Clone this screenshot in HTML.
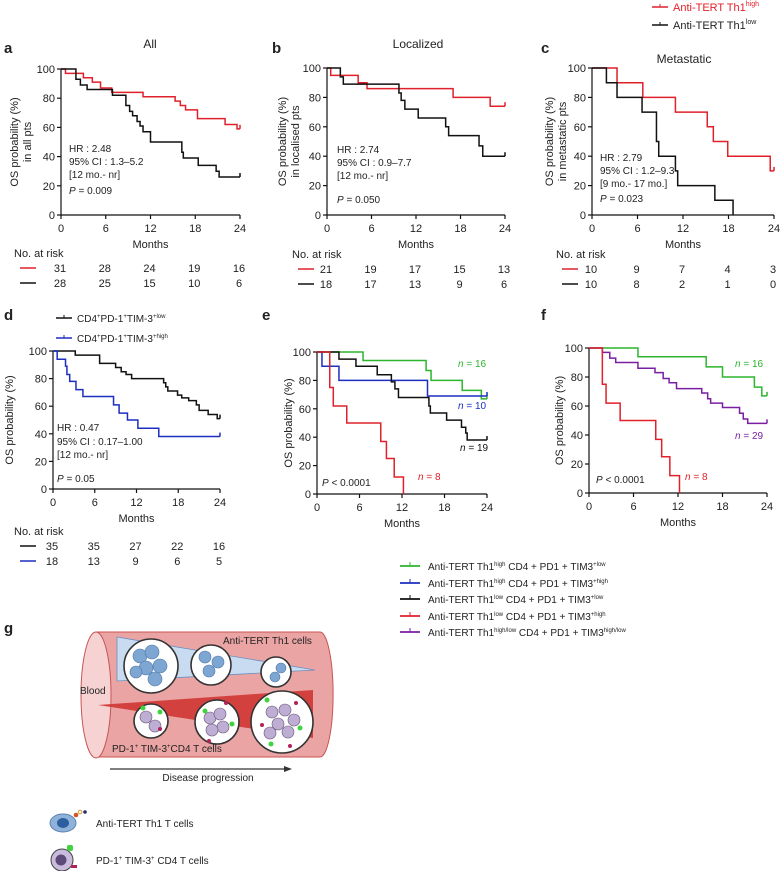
<!DOCTYPE html>
<html><head><meta charset="utf-8"><style>
html,body{margin:0;padding:0;background:#fff}
svg{display:block;font-family:"Liberation Sans",Arial,sans-serif}
</style></head><body>
<svg id="fig" width="780" height="871" viewBox="0 0 780 871" xmlns="http://www.w3.org/2000/svg">
<g id="panels"></g>
<g id="static" font-size="11" fill="#222">
 <text x="4" y="53" font-size="15" font-weight="bold">a</text>
 <text x="272" y="53" font-size="15" font-weight="bold">b</text>
 <text x="541" y="53" font-size="15" font-weight="bold">c</text>
 <text x="4" y="320" font-size="15" font-weight="bold">d</text>
 <text x="262" y="320" font-size="15" font-weight="bold">e</text>
 <text x="541" y="320" font-size="15" font-weight="bold">f</text>
 <text x="4" y="633" font-size="15" font-weight="bold">g</text>
 <text x="150" y="48" font-size="12" text-anchor="middle">All</text>
 <text x="418" y="48" font-size="12" text-anchor="middle">Localized</text>
 <text x="684" y="63" font-size="12" text-anchor="middle">Metastatic</text>
 <g>
  <line x1="652" y1="7" x2="668" y2="7" stroke="#e0202a" stroke-width="1.5"/><line x1="660" y1="4" x2="660" y2="7" stroke="#e0202a"/>
  <text x="673" y="11" fill="#e0202a">Anti-TERT Th1<tspan font-size="7" dy="-5">high</tspan></text>
  <line x1="652" y1="25" x2="668" y2="25" stroke="#111" stroke-width="1.5"/><line x1="660" y1="22" x2="660" y2="25" stroke="#111"/>
  <text x="673" y="29">Anti-TERT Th1<tspan font-size="7" dy="-5">low</tspan></text>
 </g>
 <g>
  <line x1="56" y1="318" x2="72" y2="318" stroke="#111" stroke-width="1.5"/><line x1="64" y1="315" x2="64" y2="318" stroke="#111"/>
  <text x="77" y="322" font-size="10">CD4<tspan font-size="6" dy="-4">+</tspan><tspan dy="4">PD-1</tspan><tspan font-size="6" dy="-4">+</tspan><tspan dy="4">TIM-3</tspan><tspan font-size="6" dy="-4">+low</tspan></text>
  <line x1="56" y1="338" x2="72" y2="338" stroke="#1c2fc0" stroke-width="1.5"/><line x1="64" y1="335" x2="64" y2="338" stroke="#1c2fc0"/>
  <text x="77" y="342" font-size="10">CD4<tspan font-size="6" dy="-4">+</tspan><tspan dy="4">PD-1</tspan><tspan font-size="6" dy="-4">+</tspan><tspan dy="4">TIM-3</tspan><tspan font-size="6" dy="-4">+high</tspan></text>
 </g>
 <g font-size="10">
  <g><line x1="400" y1="566" x2="420" y2="566" stroke="#2db52d" stroke-width="1.8"/><line x1="410" y1="562" x2="410" y2="566" stroke="#2db52d"/>
  <text x="428" y="570">Anti-TERT Th1<tspan font-size="6" dy="-4">high</tspan><tspan dy="4"> CD4 + PD1 + TIM3</tspan><tspan font-size="6" dy="-4">+low</tspan></text></g>
  <g><line x1="400" y1="583" x2="420" y2="583" stroke="#1c2fc0" stroke-width="1.8"/><line x1="410" y1="579" x2="410" y2="583" stroke="#1c2fc0"/>
  <text x="428" y="587">Anti-TERT Th1<tspan font-size="6" dy="-4">high</tspan><tspan dy="4"> CD4 + PD1 + TIM3</tspan><tspan font-size="6" dy="-4">+high</tspan></text></g>
  <g><line x1="400" y1="599" x2="420" y2="599" stroke="#111" stroke-width="1.8"/><line x1="410" y1="595" x2="410" y2="599" stroke="#111"/>
  <text x="428" y="603">Anti-TERT Th1<tspan font-size="6" dy="-4">low</tspan><tspan dy="4"> CD4 + PD1 + TIM3</tspan><tspan font-size="6" dy="-4">+low</tspan></text></g>
  <g><line x1="400" y1="616" x2="420" y2="616" stroke="#e0202a" stroke-width="1.8"/><line x1="410" y1="612" x2="410" y2="616" stroke="#e0202a"/>
  <text x="428" y="620">Anti-TERT Th1<tspan font-size="6" dy="-4">low</tspan><tspan dy="4"> CD4 + PD1 + TIM3</tspan><tspan font-size="6" dy="-4">+high</tspan></text></g>
  <g><line x1="400" y1="632" x2="420" y2="632" stroke="#7a1fa2" stroke-width="1.8"/><line x1="410" y1="628" x2="410" y2="632" stroke="#7a1fa2"/>
  <text x="428" y="636">Anti-TERT Th1<tspan font-size="6" dy="-4">high/low</tspan><tspan dy="4"> CD4 + PD1 + TIM3</tspan><tspan font-size="6" dy="-4">high/low</tspan></text></g>
 </g>
</g>
<g id="illustration">
 <path d="M96 632 L320 632 A13 62 0 0 1 320 757 L96 757 Z" fill="#eaa4a4" stroke="#c85555" stroke-width="1"/>
 <ellipse cx="96" cy="695" rx="15" ry="63" fill="#f6d2d2" stroke="#c85555"/>
 <polygon points="117,637 315,670 117,681" fill="#c9dbf0" stroke="#6d8fc0" stroke-width="0.8"/>
 <polygon points="98,705 313,690 313,738" fill="#d3413f"/>
 <g stroke="#333" stroke-width="1.6" fill="#fff">
  <circle cx="151" cy="666" r="27"/><circle cx="211" cy="665" r="20"/><circle cx="276" cy="672" r="15"/>
  <circle cx="151" cy="721" r="17"/><circle cx="217" cy="722" r="22"/><circle cx="282" cy="722" r="31"/>
 </g>
 <g fill="#7ea6d3" stroke="#4e77a8" stroke-width="0.6">
  <circle cx="140" cy="656" r="7"/><circle cx="152" cy="652" r="7"/><circle cx="146" cy="668" r="7"/><circle cx="160" cy="666" r="7"/><circle cx="136" cy="672" r="6"/><circle cx="155" cy="679" r="7"/>
  <circle cx="205" cy="657" r="6"/><circle cx="218" cy="662" r="6"/><circle cx="209" cy="671" r="6"/>
  <circle cx="281" cy="668" r="5"/><circle cx="275" cy="677" r="5"/>
 </g>
 <g fill="#bfaed4" stroke="#665577" stroke-width="0.6">
  <circle cx="146" cy="717" r="6"/><circle cx="155" cy="726" r="6"/>
  <circle cx="210" cy="718" r="6"/><circle cx="220" cy="714" r="6"/><circle cx="223" cy="727" r="6"/><circle cx="212" cy="730" r="6"/>
  <circle cx="272" cy="712" r="6"/><circle cx="285" cy="710" r="6"/><circle cx="294" cy="720" r="6"/><circle cx="278" cy="724" r="6"/><circle cx="288" cy="732" r="6"/><circle cx="270" cy="733" r="6"/>
 </g>
 <g fill="#3fd43f"><circle cx="143" cy="708" r="2.5"/><circle cx="160" cy="712" r="2.5"/><circle cx="205" cy="711" r="2.5"/><circle cx="232" cy="724" r="2.5"/><circle cx="267" cy="700" r="2.5"/><circle cx="300" cy="728" r="2.5"/><circle cx="271" cy="744" r="2.5"/></g>
 <g fill="#b3205a"><circle cx="160" cy="729" r="2"/><circle cx="209" cy="741" r="2"/><circle cx="226" cy="703" r="2"/><circle cx="296" cy="703" r="2"/><circle cx="262" cy="725" r="2"/><circle cx="290" cy="746" r="2"/></g>
 <text x="223" y="644" font-size="10" fill="#222">Anti-TERT Th1 cells</text>
 <text x="80" y="694" font-size="10" fill="#222">Blood</text>
 <text x="112" y="752" font-size="10" fill="#222">PD-1<tspan font-size="6" dy="-4">+</tspan><tspan dy="4"> TIM-3</tspan><tspan font-size="6" dy="-4">+</tspan><tspan dy="4">CD4 T cells</tspan></text>
 <line x1="110" y1="769" x2="288" y2="769" stroke="#333" stroke-width="1.2"/><polygon points="292,769 284,766 284,772" fill="#333"/>
 <text x="208" y="781" font-size="10" fill="#222" text-anchor="middle">Disease progression</text>
 <ellipse cx="63" cy="823" rx="13" ry="9" fill="#8fb2da" stroke="#5d82b0"/><ellipse cx="63" cy="823" rx="6" ry="5" fill="#2d5f9e"/>
 <circle cx="76" cy="815" r="2.3" fill="#d35420"/><circle cx="80" cy="812" r="1.8" fill="none" stroke="#d99a2b"/><circle cx="85" cy="812" r="1.8" fill="#2a2a6a"/>
 <text x="96" y="827" font-size="10" fill="#222">Anti-TERT Th1 T cells</text>
 <circle cx="62" cy="860" r="11" fill="#c9bbdc" stroke="#444"/><circle cx="61" cy="860" r="5.5" fill="#5d4a7a"/>
 <rect x="67" y="845" width="6" height="6" rx="2" fill="#3fd43f"/><rect x="71" y="865" width="6" height="3" fill="#b3205a"/>
 <text x="96" y="864" font-size="10" fill="#222">PD-1<tspan font-size="6" dy="-4">+</tspan><tspan dy="4"> TIM-3</tspan><tspan font-size="6" dy="-4">+</tspan><tspan dy="4"> CD4 T cells</tspan></text>
</g>
</svg>
<script>
// Step data: times (months) and survival (%) after each drop
const aRedT=[0.6,3,4.2,5.3,6.8,11,15.3,16,16.7,18.3,22,23.6];
const aRedV=[97,94,91,87,84,81,78,75,72,66,62,59];
const aBlkT=[2,2.6,3.5,6.9,8.7,9.2,9.6,10.2,10.6,11,12,16.2,16.4,18.4,20.8,21.2];
const aBlkV=[93,89,86,82,75,71,68,64,61,57,50,43,39,34,30,26];
const bRedT=[0.5,4.2,5.4,17,22];
const bRedV=[95,90,86,80,74];
const bBlkT=[1.8,2.2,9.7,10,10.5,12.3,16,16.4,20.5,21];
const bBlkV=[94,89,83,78,72,66,60,54,47,40];
const cRedT=[3.3,6.7,11,15.2,16,17.9,23.5];
const cRedV=[90,80,70,60,50,40,30];
const cBlkT=[1.9,3.3,6.6,8.5,8.8,11,11.3,16.2,18.6];
const cBlkV=[90,80,70,50,40,30,20,10,0];
const dBlkT=[3.2,6.7,9,9.8,10.5,11.3,15.9,16.2,16.5,17.9,18.5,19.5,20.6,21,22.3,23.6];
const dBlkV=[97,91,88,85,83,80,77,74,71,68,66,64,61,57,54,51];
const dBluT=[0.6,1.8,2,2.4,3.3,4.3,8.7,9.5,10.7,12.2,15.2];
const dBluV=[94,89,83,78,72,67,61,55,50,44,38];
const eGrnT=[6.5,15.4,16.1,20.5,23.2];
const eGrnV=[94,87,80,73,67];
const eBluT=[0.7,3.1,15.6];
const eBluV=[90,80,69];
const eBlkT=[3.1,5.5,8.5,10.5,11,11.5,15.8,16,18.3,20.4,21,21.2];
const eBlkV=[95,90,84,79,74,68,62,57,52,47,43,38];
const redT=[1.8,2.3,4.2,9,9.8,10.9,12.2];
const redV=[75,62,50,37,25,12,0];
const fGrnT=[6.6,15.8,18,22.3,23.3];
const fGrnV=[94,87,80,73,67];
const fPurT=[1.8,2.8,3.6,6.6,8.9,10,10.8,11.8,15.2,16,16.4,18,20.3,20.8,21.4];
const fPurV=[97,93,90,86,83,79,76,72,69,65,62,59,55,51,48];
const xTicks=[0,6,12,18,24];
const yTicks=[0,20,40,60,80,100];
const riskA=[[31,28,24,19,16],[28,25,15,10,6]];
const riskB=[[21,19,17,15,13],[18,17,13,9,6]];
const riskC=[[10,9,7,4,3],[10,8,2,1,0]];
const riskD=[[35,35,27,22,16],[18,13,9,6,5]];

const NS="http://www.w3.org/2000/svg";
const root=document.getElementById('panels');
function mk(tag,attrs,parent,txt){const e=document.createElementNS(NS,tag);for(const k in attrs)e.setAttribute(k,attrs[k]);if(txt!==undefined)e.textContent=txt;parent.appendChild(e);return e;}

function panel(p){
  const g=mk('g',{},root);
  
  
  const X=t=>p.x0+(p.x1-p.x0)*t/24, Y=v=>p.y0+(p.y100-p.y0)*v/100;
  const ax=mk('g',{stroke:'#111','stroke-width':1.2},g);
  
  
  mk('line',{x1:X(0),y1:Y(0),x2:X(0),y2:Y(100)},ax);
  mk('line',{x1:X(0),y1:Y(0),x2:X(24),y2:Y(0)},ax);
  yTicks.forEach(v=>{mk('line',{x1:X(0)-4,y1:Y(v),x2:X(0),y2:Y(v)},ax);
    const t=mk('text',{x:X(0)-6,y:Y(v)+4,'text-anchor':'end','font-size':11,fill:'#222',stroke:'none'},g,v);
    
    });
  xTicks.forEach(v=>{mk('line',{x1:X(v),y1:Y(0),x2:X(v),y2:Y(0)+4},ax);
    const t=mk('text',{x:X(v),y:Y(0)+17,'text-anchor':'middle','font-size':11,fill:'#222'},g,v);
    
    });
  const mo=mk('text',{x:(X(0)+X(24))/2,y:Y(0)+33,'text-anchor':'middle','font-size':11,fill:'#222'},g,'Months');
  
  
  const yl=mk('text',{transform:`translate(${p.ylx},${(Y(0)+Y(100))/2}) rotate(-90)`,'text-anchor':'middle','font-size':11,fill:'#222'},g);
  
  
  p.ylab.forEach((s,i)=>mk('tspan',{x:0,dy:i?13:0},yl,s));
  p.series.forEach(s=>{
    let d=`M${X(0)},${Y(100)}`,prev=100;
    s.t.forEach((t,i)=>{d+=` L${X(t)},${Y(prev)} L${X(t)},${Y(s.v[i])}`;prev=s.v[i];});
    const end=s.end!==undefined?s.end:24;
    if(end>s.t[s.t.length-1])d+=` L${X(end)},${Y(prev)}`;
    const path=mk('path',{d,fill:'none',stroke:s.c,'stroke-width':1.5},g);
    
    
    if(end===24){mk('line',{x1:X(24),y1:Y(prev)-4,x2:X(24),y2:Y(prev),stroke:s.c,'stroke-width':1.5},g);}
  });
  (p.texts||[]).forEach(tx=>{
    const t=mk('text',{x:tx[0],y:tx[1],'font-size':tx[3]||10,fill:tx[4]||'#222'},g);
    
    
    t.innerHTML=tx[2];
  });
  if(p.risk){
    const ry=Y(0)+p.riskOff;
    const h=mk('text',{x:p.riskX,y:ry,'font-size':11,fill:'#222'},g,'No. at risk');
    
    
    p.risk.forEach((row,r)=>{
      const yy=ry+15*(r+1);
      mk('line',{x1:p.riskX+6,y1:yy-4,x2:p.riskX+22,y2:yy-4,stroke:p.riskC[r],'stroke-width':1.5},g);
      row.forEach((n,i)=>{const t=mk('text',{x:X(xTicks[i])-1,y:yy,'text-anchor':'middle','font-size':11,fill:'#222'},g,n);
        
        });
    });
  }
}
const R='#e0202a',K='#111',B='#1c2fc0',G='#2db52d',P='#7a1fa2';
panel({id:'a',x0:61,x1:240,y0:215,y100:69,ylx:18,ylab:['OS probability (%)','in all pts'],
 series:[{n:'red',t:aRedT,v:aRedV,c:R},{n:'black',t:aBlkT,v:aBlkV,c:K}],
 texts:[[69,152,'HR : 2.48'],[69,165,'95% CI : 1.3–5.2'],[69,178,'[12 mo.- nr]'],[69,194,'<tspan font-style="italic">P</tspan> = 0.009']],
 risk:riskA,riskC:[R,K],riskX:14,riskOff:42});
panel({id:'b',x0:327,x1:505,y0:215,y100:68,ylx:286,ylab:['OS probability (%)','in localised pts'],
 series:[{n:'red',t:bRedT,v:bRedV,c:R},{n:'black',t:bBlkT,v:bBlkV,c:K}],
 texts:[[337,153,'HR : 2.74'],[337,166,'95% CI : 0.9–7.7'],[337,179,'[12 mo.- nr]'],[337,203,'<tspan font-style="italic">P</tspan> = 0.050']],
 risk:riskB,riskC:[R,K],riskX:292,riskOff:43});
panel({id:'c',x0:592,x1:774,y0:215,y100:68,ylx:553,ylab:['OS probability (%)','in metastatic pts'],
 series:[{n:'red',t:cRedT,v:cRedV,c:R},{n:'black',t:cBlkT,v:cBlkV,c:K,end:18.6}],
 texts:[[600,161,'HR : 2.79'],[600,174,'95% CI : 1.2–9.3'],[600,187,'[9 mo.- 17 mo.]'],[600,202,'<tspan font-style="italic">P</tspan> = 0.023']],
 risk:riskC,riskC:[R,K],riskX:556,riskOff:43});
panel({id:'d',x0:53,x1:220,y0:489,y100:351,ylx:13,ylab:['OS probability (%)'],
 series:[{n:'black',t:dBlkT,v:dBlkV,c:K},{n:'blue',t:dBluT,v:dBluV,c:B}],
 texts:[[57,431,'HR : 0.47'],[57,445,'95% CI : 0.17–1.00'],[57,458,'[12 mo.- nr]'],[57,482,'<tspan font-style="italic">P</tspan> = 0.05']],
 risk:riskD,riskC:[K,B],riskX:14,riskOff:46});
panel({id:'e',x0:317,x1:487,y0:494,y100:352,ylx:292,ylab:['OS probability (%)'],
 series:[{n:'green',t:eGrnT,v:eGrnV,c:G},{n:'blue',t:eBluT,v:eBluV,c:B},{n:'black',t:eBlkT,v:eBlkV,c:K},{n:'red',t:redT,v:redV,c:R,end:12.2}],
 texts:[[322,486,'<tspan font-style="italic">P</tspan> &lt; 0.0001'],[458,367,'<tspan font-style="italic">n</tspan> = 16',10,G],[458,409,'<tspan font-style="italic">n</tspan> = 10',10,B],[460,451,'<tspan font-style="italic">n</tspan> = 19',10,K],[418,480,'<tspan font-style="italic">n</tspan> = 8',10,R]]});
panel({id:'f',x0:589,x1:767,y0:493,y100:348,ylx:563,ylab:['OS probability (%)'],
 series:[{n:'green',t:fGrnT,v:fGrnV,c:G},{n:'purple',t:fPurT,v:fPurV,c:P},{n:'red',t:redT,v:redV,c:R,end:12.2}],
 texts:[[596,483,'<tspan font-style="italic">P</tspan> &lt; 0.0001'],[735,367,'<tspan font-style="italic">n</tspan> = 16',10,G],[735,439,'<tspan font-style="italic">n</tspan> = 29',10,P],[685,480,'<tspan font-style="italic">n</tspan> = 8',10,R]]});
</script>
</body></html>
